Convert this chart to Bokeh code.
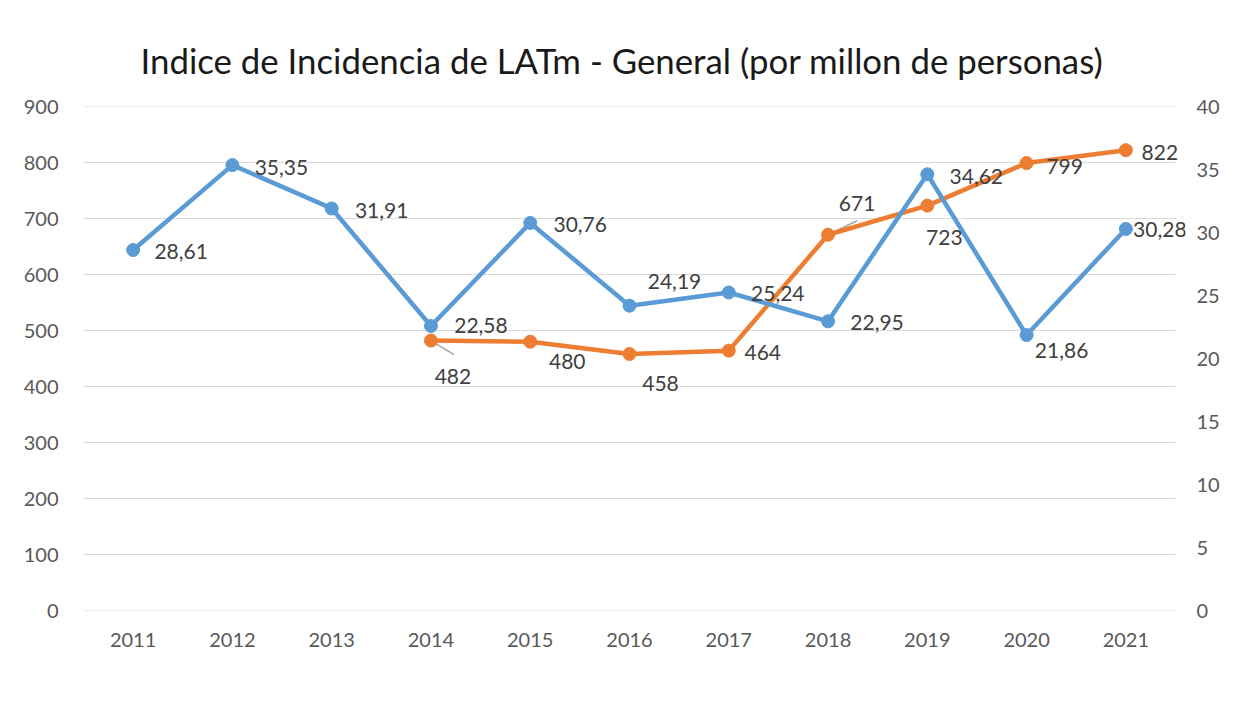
from bokeh.plotting import figure
from bokeh.models import Range1d, LinearAxis, FixedTicker, Legend, LegendItem, ColumnDataSource, LabelSet
from bokeh.core.properties import value
from bokeh.embed import file_html
from bokeh.resources import INLINE

# ---- data ----
years = [2011, 2012, 2013, 2014, 2015, 2016, 2017, 2018, 2019, 2020, 2021]
indice_at = [28.61, 35.35, 31.91, 22.58, 30.76, 24.19, 25.24, 22.95, 34.62, 21.86, 30.28]
insp_years = [2014, 2015, 2016, 2017, 2018, 2019, 2020, 2021]
inspectores = [482, 480, 458, 464, 671, 723, 799, 822]
left_ticks = [0, 100, 200, 300, 400, 500, 600, 700, 800, 900]
right_ticks = [0, 5, 10, 15, 20, 25, 30, 35, 40]

TITLE = "Indice de Incidencia de LATm - General (por millon de personas)"
S1 = "Nº inspectores de trabajo"
S2 = "Indice de AT mortales (x millon de personas)"

# ---- style ----
ORANGE = "#ED7D31"
BLUE = "#5B9BD5"
GRID = "#D9D9D9"
TXT = "#595959"
LBL = "#404040"
FONT = "Lato"

PLOT_W, FRAME_H = 1092, 504      # visible plot area (gridline extent)
EXTRA = 10                       # room on the right so edge labels are not clipped
ML, MR, MT, MB = 83, 50, 106, 116

px_x = (years[-1] - years[0] + 1) / PLOT_W
px_y = (left_ticks[-1] - left_ticks[0]) / FRAME_H
x0, x1 = years[0] - 0.5, years[-1] + 0.5

p = figure(frame_width=PLOT_W + EXTRA, frame_height=FRAME_H, output_backend="svg", toolbar_location=None,
           x_range=Range1d(x0, x1 + EXTRA * px_x),
           y_range=Range1d(left_ticks[0], left_ticks[-1]),
           min_border_left=ML, min_border_right=MR, min_border_top=MT, min_border_bottom=MB)
p.extra_y_ranges = {"r": Range1d(right_ticks[0], right_ticks[-1])}
p.outline_line_color = None
p.background_fill_color = "white"
p.border_fill_color = "white"

p.title.text = TITLE
p.title.align = "left"
p.title.offset = 57
p.title.text_font = FONT
p.title.text_font_style = "normal"
p.title.text_font_size = "34.8px"
p.title.text_color = "#1a1a1a"
p.title.standoff = 52

# axes
xa = p.xaxis[0]
xa.ticker = FixedTicker(ticks=years)
ya = p.yaxis[0]
ya.ticker = FixedTicker(ticks=left_ticks)
ra = LinearAxis(y_range_name="r", ticker=FixedTicker(ticks=right_ticks))
p.add_layout(ra, "right")
for ax in (xa, ya, ra):
    ax.major_label_text_font = FONT
    ax.major_label_text_font_size = "20px"
    ax.major_label_text_color = TXT
    ax.major_tick_line_color = None
    ax.minor_tick_line_color = None
    ax.axis_line_color = None
xa.major_label_standoff = 16
ya.major_label_standoff = 19
ra.major_label_standoff = 15 - EXTRA

p.xgrid.grid_line_color = None
p.ygrid.grid_line_color = None
# horizontal gridlines limited to the category extent
p.segment(x0=[x0] * len(left_ticks), x1=[x1] * len(left_ticks), y0=left_ticks, y1=left_ticks,
          line_color=GRID, line_width=1)

# leader lines (orange labels 482 and 671)
lead_idx = [0, 4]
lead_dx = [23, 29]
lead_dy = [-14, 14]
p.segment(x0=[insp_years[i] for i in lead_idx], y0=[inspectores[i] for i in lead_idx],
          x1=[insp_years[i] + lead_dx[k] * px_x for k, i in enumerate(lead_idx)],
          y1=[inspectores[i] + lead_dy[k] * px_y for k, i in enumerate(lead_idx)],
          line_color="#A6A6A6", line_width=1.5)

# series
src_o = ColumnDataSource(dict(x=insp_years, y=inspectores))
src_b = ColumnDataSource(dict(x=years, y=indice_at))
lo = p.line("x", "y", source=src_o, line_color=ORANGE, line_width=4.5)
lb = p.line("x", "y", source=src_b, line_color=BLUE, line_width=4.5, y_range_name="r")
mb = p.scatter("x", "y", source=src_b, size=13, fill_color=BLUE, line_color=BLUE, y_range_name="r")
mo = p.scatter("x", "y", source=src_o, size=13, fill_color=ORANGE, line_color=ORANGE)

# data labels (pixel offsets, screen-down positive)
blue_dx = [48, 49, 50, 50, 50, 45, 49, 49, 49, 35, 34]
blue_dy = [1, 2, 2, 0, 2, -24, 1, 1, 2, 15, 1]
org_dx = [22, 37, 31, 34, 29, 17, 38, 34]
org_dy = [36, 20, 29, 2, -31, 32, 3, 2]

lab_b = ColumnDataSource(dict(x=years, y=indice_at,
                              t=[f"{v:.2f}".replace(".", ",") for v in indice_at],
                              dx=blue_dx, dy=[-d for d in blue_dy]))
lab_o = ColumnDataSource(dict(x=insp_years, y=inspectores, t=[str(v) for v in inspectores],
                              dx=org_dx, dy=[-d for d in org_dy]))
for src, rng in ((lab_b, "r"), (lab_o, "default")):
    ls = LabelSet(x="x", y="y", text="t", x_offset="dx", y_offset="dy", source=src,
                  y_range_name=rng, text_font=value(FONT), text_font_size="21px", text_color=LBL,
                  text_align="center", text_baseline="middle")
    p.add_layout(ls)

# legend drawn below the frame (screen offset from the frame's bottom-left corner)
legend = Legend(items=[LegendItem(label=S1, renderers=[lo, mo]),
                       LegendItem(label=S2, renderers=[lb, mb])],
                orientation="horizontal", location=(113, -95),
                glyph_width=55, glyph_height=20, label_standoff=3, spacing=58,
                label_text_font=FONT, label_text_font_size="22px", label_text_color=LBL,
                border_line_color=None, background_fill_alpha=0, margin=0, padding=0)
p.add_layout(legend)

open("out.html", "w").write(file_html(p, INLINE))
